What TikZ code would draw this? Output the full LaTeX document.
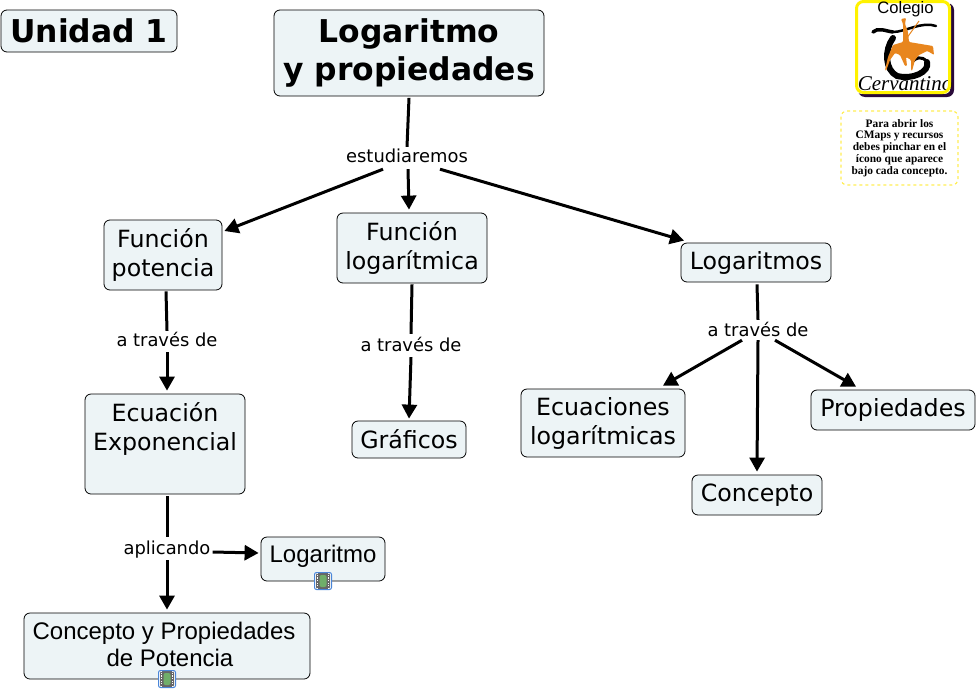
\documentclass[tikz,border=0pt]{standalone}
\usepackage{fontspec}
\setmainfont{DejaVu Sans}
\newfontfamily\arialfont{Liberation Sans}
\newfontfamily\timesfont{Liberation Serif}
\usetikzlibrary{arrows.meta}
\definecolor{boxfill}{HTML}{EDF4F6}
\definecolor{filmgreen}{HTML}{6FAE6A}
\definecolor{filmblue}{HTML}{4A86D8}
\definecolor{shadowpurple}{HTML}{2A0A3A}
\definecolor{riderorange}{HTML}{E8861E}
\definecolor{noteyellow}{HTML}{FFEE55}
\begin{document}
\begin{tikzpicture}[x=1pt, y=-1pt,
	concept/.style={draw, fill=boxfill, rounded corners=6, line width=0.8, inner sep=0, align=center, font=\fontsize{23.7}{29}\selectfont},
	heading/.style={concept, font=\fontsize{31.4}{38}\selectfont\bfseries},
	plainconcept/.style={concept, font=\fontsize{24}{27}\selectfont\arialfont},
	linkphrase/.style={inner sep=0, minimum height=24, text height=13.4, text depth=0, font=\fontsize{17.9}{22}\selectfont},
	connector/.style={line width=3, draw=black},
	arrowline/.style={connector, -{Triangle[length=14, width=15]}},
	filmbox/.style={draw=filmblue, fill=white, rounded corners=2, line width=1, minimum size=17, inner sep=0, path picture={
		\fill[black!60] ([xshift=-7, yshift=-8]path picture bounding box.center) rectangle ([xshift=7, yshift=8]path picture bounding box.center);
		\fill[filmgreen] ([xshift=-3.5, yshift=-6]path picture bounding box.center) rectangle ([xshift=3.5, yshift=6]path picture bounding box.center);
		\draw[white, line width=1.5, dash pattern=on 1.2 off 1.4] ([xshift=-5.5, yshift=-8]path picture bounding box.center) -- ([xshift=-5.5, yshift=8]path picture bounding box.center);
		\draw[white, line width=1.5, dash pattern=on 1.2 off 1.4] ([xshift=5.5, yshift=-8]path picture bounding box.center) -- ([xshift=5.5, yshift=8]path picture bounding box.center);
	}}]
	\useasboundingbox (0,0) rectangle (976,691);

	\node[heading, minimum width=176, minimum height=42] (unidad) at (89, 31) {Unidad 1};
	\node[heading, minimum width=270, minimum height=86] (title) at (409, 53) {Logaritmo\\y propiedades};
	\node[concept, minimum width=118, minimum height=70] (fpotencia) at (163, 255) {Función\\potencia};
	\node[concept, minimum width=150, minimum height=70] (flog) at (412, 248) {Función\\logarítmica};
	\node[concept, minimum width=150, minimum height=39] (logaritmos) at (756, 262.5) {Logaritmos};
	\node[concept, minimum width=160, minimum height=100] (ecuexp) at (165, 444) {Ecuación\\Exponencial\\[6pt]~};
	\node[concept, minimum width=114, minimum height=37] (graficos) at (409, 439.5) {Gráficos};
	\node[concept, minimum width=164, minimum height=68] (eculog) at (603, 423) {Ecuaciones\\logarítmicas};
	\node[concept, minimum width=130, minimum height=40] (concepto) at (757, 495) {Concepto};
	\node[concept, minimum width=164, minimum height=40] (propiedades) at (893, 410) {Propiedades};
	\node[plainconcept, minimum width=124, minimum height=44, text depth=9.5] (logaritmo) at (323, 559) {Logaritmo};
	\node[plainconcept, minimum width=286, minimum height=66, text depth=3] (conceptopot) at (167, 646) {Concepto y Propiedades\hbox to 6pt{}\\\hbox to 6pt{}de Potencia};

	\node[filmbox] (filmlog) at (323, 581) {};
	\node[filmbox] (filmpot) at (167, 679) {};

	\node[linkphrase] (estudiaremos) at (407, 156) {estudiaremos};
	\node[linkphrase] (atraves1) at (167, 340) {a través de};
	\node[linkphrase] (atraves2) at (411, 345) {a través de};
	\node[linkphrase] (atraves3) at (758, 330) {a través de};
	\node[linkphrase] (aplicando) at (167, 548) {aplicando};

	\draw[connector] ([yshift=-1.5]title.south) -- ([yshift=-3]estudiaremos.north);
	\draw[arrowline] ([xshift=-24, yshift=-1]estudiaremos.south) -- ([xshift=2, yshift=24]fpotencia.east);
	\draw[arrowline] ([xshift=1, yshift=-1]estudiaremos.south) -- ([xshift=-3, yshift=3]flog.north);
	\draw[arrowline] ([xshift=33, yshift=-1]estudiaremos.south) -- ([xshift=-72, yshift=2]logaritmos.north);
	\draw[connector] ([xshift=3, yshift=-1]fpotencia.south) -- ([yshift=-3]atraves1.north);
	\draw[arrowline] ([yshift=0]atraves1.south) -- ([xshift=2, yshift=3]ecuexp.north);
	\draw[connector] (flog.south) ++(0,1) -- ([yshift=-1]atraves2.north);
	\draw[arrowline] (atraves2.south) -- ([yshift=2]graficos.north);
	\draw[connector] ([xshift=1, yshift=-2]logaritmos.south) -- ([yshift=-2]atraves3.north);
	\draw[arrowline] ([xshift=-16, yshift=2]atraves3.south) -- ([xshift=60, yshift=3]eculog.north);
	\draw[arrowline] ([yshift=2]atraves3.south) -- ([yshift=3]concepto.north);
	\draw[arrowline] ([xshift=17, yshift=2]atraves3.south) -- ([xshift=-37, yshift=3]propiedades.north);
	\draw[connector] ([xshift=2, yshift=-2]ecuexp.south) -- ([yshift=-1]aplicando.north);
	\draw[arrowline] ([xshift=2, yshift=-4]aplicando.east) -- ([xshift=-2, yshift=6]logaritmo.west);
	\draw[arrowline] (aplicando.south) -- ([yshift=3]conceptopot.north);

	\fill[shadowpurple, rounded corners=7] (858, 3) rectangle (954, 97);
	\begin{scope}
		\clip[rounded corners=7] (855, 0) rectangle (951, 94);
		\fill[white] (855, 0) rectangle (951, 94);
		\draw[line width=3.5, line cap=round] (873, 32) .. controls (878, 27) and (885, 31) .. (893, 32);
		\draw[line width=2.5, line cap=round] (893, 32) .. controls (905, 32) and (922, 21) .. (936, 26);
		\draw[line width=6, line cap=round] (893, 38) .. controls (884, 50) and (885, 70) .. (897, 76) .. controls (912, 80) and (930, 72) .. (927, 62);
		\draw[line width=3] (927, 62) .. controls (922, 55) and (915, 58) .. (912, 62);
		\fill[riderorange, rounded corners=1] (901, 19) -- (906, 18) -- (905, 24) -- (908, 32) -- (909, 42) -- (921, 44) -- (933, 46) -- (934, 55) -- (931, 53) -- (927, 51) -- (919, 55) -- (915, 60) -- (912, 71) -- (911, 70) -- (911, 60) -- (906, 57) -- (907, 66) -- (905, 66) -- (900, 55) -- (895, 53) -- (890, 60) -- (886, 71) -- (885, 70) -- (888, 57) -- (893, 45) -- (903, 42) -- (903, 30) -- (903, 24) -- cycle;
		\draw[riderorange, line width=1] (904, 42) -- (919, 21);
		\node[inner sep=0, font=\fontsize{21}{24}\selectfont\timesfont\itshape] (cervantino) at (905, 84) {Cervantino};
	\end{scope}
	\draw[yellow, line width=3, rounded corners=7] (856.5, 1.5) rectangle (949.5, 92.5);
	\node[inner sep=0, font=\fontsize{16.6}{20}\selectfont\arialfont] (colegio) at (905.5, 9) {Colegio};

	\node[draw=noteyellow, fill=white, dashed, line width=1.2, rounded corners=6, minimum width=117, minimum height=74, inner sep=0, align=center, font=\fontsize{11.4}{11.8}\selectfont\timesfont\bfseries] (nota) at (899.5, 148) {Para abrir los\\CMaps y  recursos\\debes pinchar en el\\ícono que aparece\\bajo cada concepto.};
\end{tikzpicture}
\end{document}
